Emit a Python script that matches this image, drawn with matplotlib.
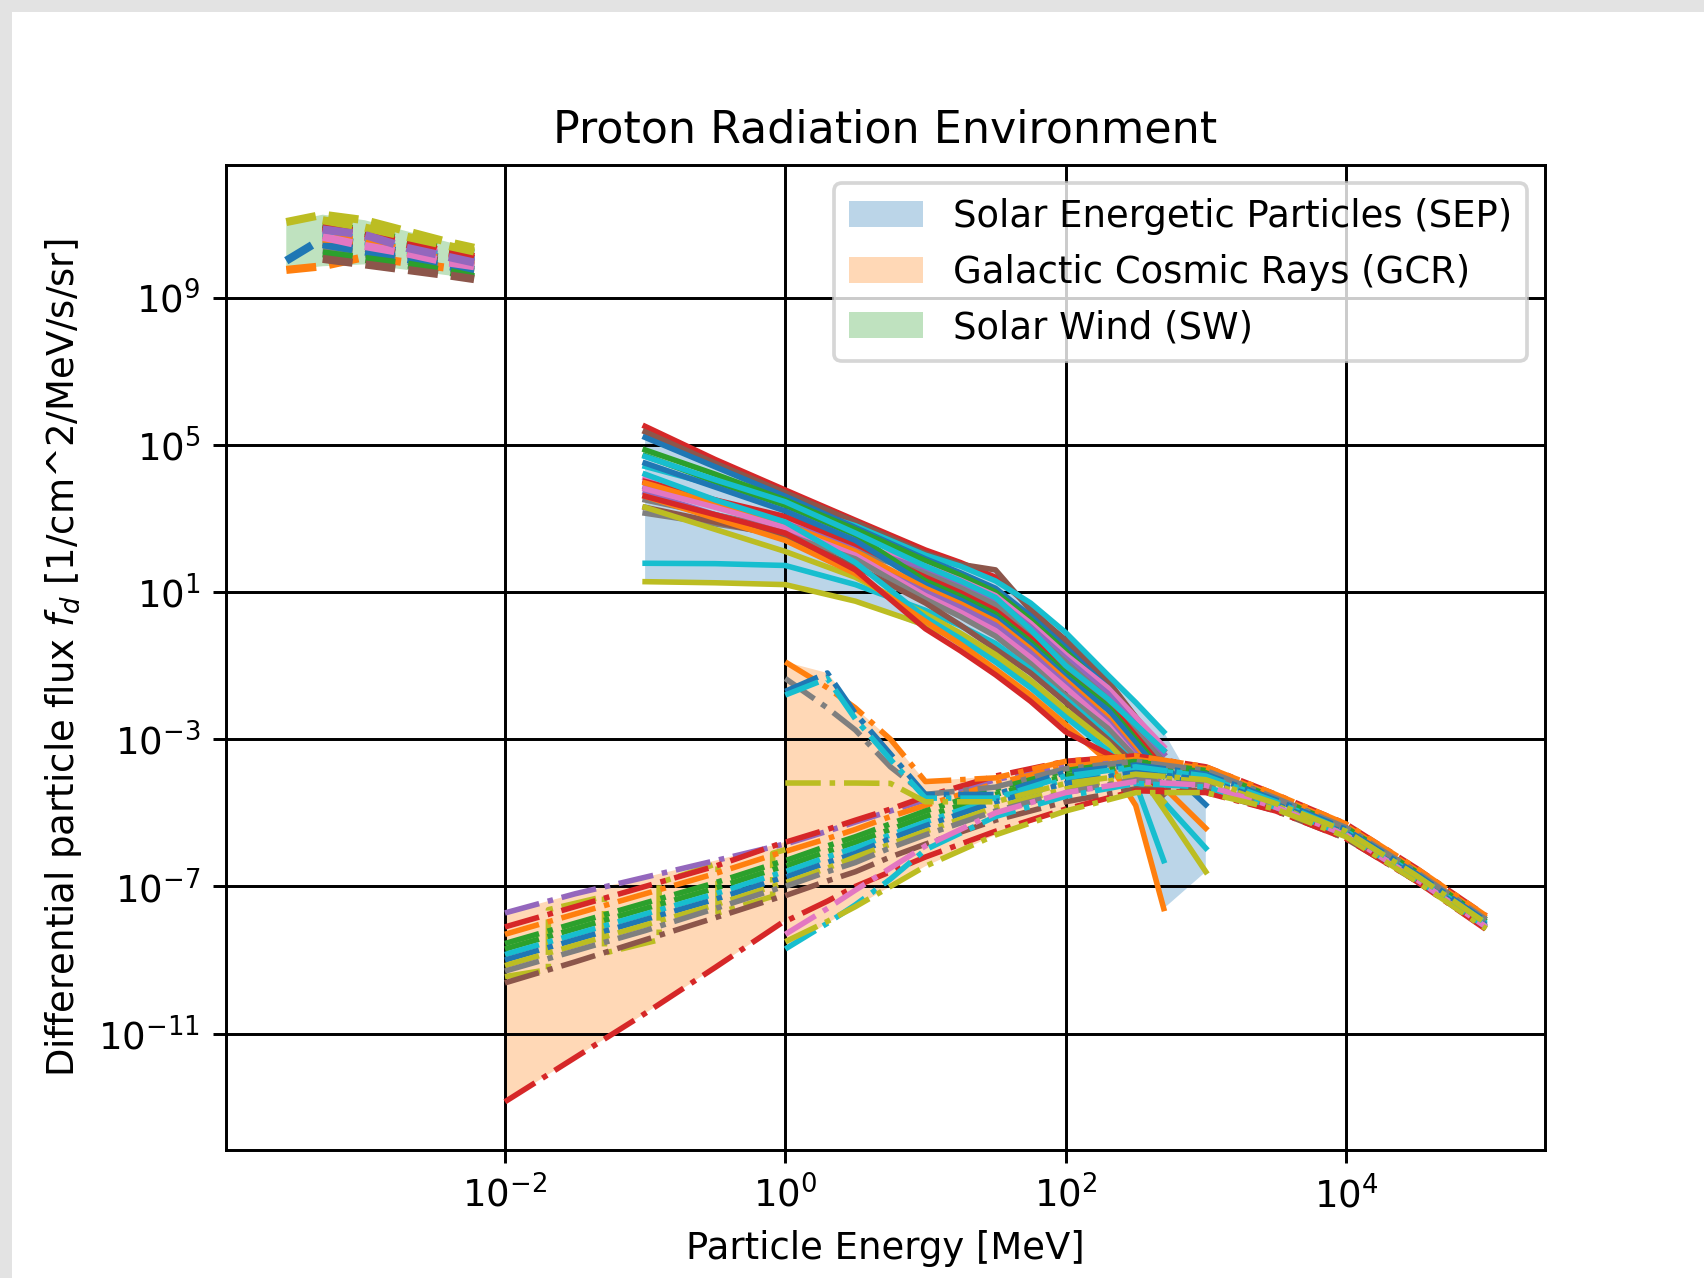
import numpy as np
import matplotlib
matplotlib.use("Agg")
import matplotlib.pyplot as plt
from matplotlib.patches import Rectangle
from matplotlib.ticker import FixedLocator, NullLocator

nan = np.nan

# ---------------- data (log10 values) ----------------
# Solar Energetic Particles: log10(E/MeV) grid and log10(flux) per model
sep_logE = [-1.0, -0.5, 0.0, 0.5, 1.0, 1.25, 1.5, 1.75, 2.0, 2.3, 2.5, 2.7, 3.0]
sep_logF = [
    [5.50, 4.60, 3.77, 2.95, 2.14, 1.80, 1.40, 0.60, -0.40, -1.45, -2.40, -3.30, nan],
    [5.35, 4.50, 3.70, 2.90, 2.05, 1.75, 1.60, 0.50, -0.30, -1.40, -2.40, -3.40, nan],
    [4.41, 3.90, 3.40, 2.80, 2.00, 1.70, 1.30, 0.70, -0.10, -1.25, -2.00, -2.80, nan],
    [5.20, 4.40, 3.60, 2.75, 1.90, 1.52, 1.10, 0.35, -0.50, -1.60, -2.60, -3.70, -4.78],
    [4.86, 4.20, 3.50, 2.70, 1.85, 1.45, 1.00, 0.25, -0.60, -1.70, -2.70, -3.60, nan],
    [4.10, 3.50, 2.95, 2.30, 1.70, 1.32, 0.90, 0.15, -0.70, -1.60, -2.40, -3.20, nan],
    [3.85, 3.35, 2.85, 2.25, 1.60, 1.22, 0.80, 0.05, -0.80, -1.75, -2.60, -3.40, nan],
    [3.50, 3.10, 2.70, 2.10, 1.50, 1.10, 0.65, -0.08, -0.90, -1.90, -2.80, -3.60, nan],
    [4.00, 3.50, 3.05, 2.30, 1.40, 0.98, 0.50, -0.25, -1.10, -2.00, -2.90, -3.80, nan],
    [4.70, 4.00, 3.35, 2.55, 1.30, 0.88, 0.40, -0.35, -1.20, -2.10, -3.00, -3.90, nan],
    [4.50, 3.85, 3.20, 2.40, 1.20, 0.78, 0.30, -0.45, -1.30, -2.20, -3.10, -4.00, nan],
    [3.96, 3.40, 2.85, 2.10, 1.10, 0.68, 0.20, -0.55, -1.40, -2.40, -3.30, -4.30, -5.42],
    [3.70, 3.10, 2.60, 1.90, 1.00, 0.58, 0.10, -0.65, -1.50, -2.50, -3.40, -4.30, nan],
    [3.80, 3.30, 2.75, 2.00, 0.90, 0.45, -0.05, -0.78, -1.60, -2.60, -3.50, -4.40, nan],
    [3.14, 2.85, 2.55, 1.90, 0.80, 0.33, -0.20, -0.95, -1.80, -2.70, -3.50, -4.40, nan],
    [1.78, 1.77, 1.72, 1.20, 0.50, 0.08, -0.40, -1.10, -1.90, -2.90, -3.70, -4.70, -5.96],
    [1.28, 1.25, 1.20, 0.75, 0.10, -0.32, -0.80, -1.50, -2.30, -3.10, -3.80, -4.90, -6.60],
    [3.30, 2.90, 2.50, 1.70, 0.70, 0.10, -0.55, -1.20, -2.00, -3.00, -3.70, -4.50, nan],
    [3.30, 2.70, 2.10, 1.40, 0.40, -0.12, -0.70, -1.40, -2.20, -3.10, -3.90, -4.70, nan],
    [4.20, 3.50, 2.90, 1.80, 0.30, -0.27, -0.90, -1.60, -2.40, -3.30, -4.20, -6.30, nan],
    [3.60, 3.00, 2.40, 1.50, 0.20, -0.42, -1.10, -1.80, -2.60, -3.60, -4.80, -7.60, nan],
    [3.60, 3.10, 2.60, 1.60, 0.00, -0.60, -1.25, -1.97, -2.80, -3.40, -3.80, -4.40, nan],
    [4.68, 4.05, 3.45, 2.60, 1.70, 1.30, 0.85, -0.02, -1.00, -1.90, -2.60, -3.30, nan],
]

# Galactic Cosmic Rays: common log10(E/MeV) grid, NaN where a model has no value
gcr_logE = [-2.0, -1.5, -1.0, -0.5, -0.01, 0.0, 0.3, 0.5, 0.75, 1.0, 1.5, 2.0, 2.5, 3.0, 3.5, 4.0, 4.5, 5.0]
gcr_logF = [
    [-7.72, -7.20, -6.75, -6.30, -5.85, -5.85, -5.50, -5.25, -4.95, -4.65, -4.10, -3.70, -3.50, -3.80, -4.55, -5.35, -6.55, -7.85],
    [-8.10, -7.55, -7.00, -6.45, -5.80, -5.80, -5.45, -5.20, -4.90, -4.56, -4.00, -3.60, -3.45, -3.75, -4.50, -5.30, -6.50, -7.80],
    [-8.30, -7.75, -7.20, -6.65, -6.05, -6.05, -5.70, -5.45, -5.10, -4.80, -4.20, -3.75, -3.55, -3.80, -4.55, -5.35, -6.55, -7.85],
    [-8.55, -8.00, -7.45, -6.90, -6.30, -6.30, -5.90, -5.65, -5.30, -4.95, -4.35, -3.85, -3.60, -3.85, -4.60, -5.40, -6.60, -7.90],
    [-8.70, -8.15, -7.60, -7.05, -6.45, -6.45, -6.05, -5.80, -5.45, -5.10, -4.50, -4.00, -3.70, -3.95, -4.65, -5.45, -6.65, -7.95],
    [-8.85, -8.30, -7.75, -7.20, -6.60, -6.60, -6.20, -5.95, -5.60, -5.25, -4.60, -4.10, -3.80, -4.00, -4.70, -5.50, -6.70, -8.00],
    [-9.00, -8.45, -7.90, -7.35, -6.75, -6.75, -6.35, -6.10, -5.70, -5.35, -4.70, -4.20, -3.90, -4.10, -4.75, -5.55, -6.75, -8.05],
    [-9.15, -8.60, -8.05, -7.50, -6.90, -6.90, -6.50, -6.20, -5.85, -5.50, -4.85, -4.35, -4.00, -4.15, -4.80, -5.60, -6.80, -8.10],
    [-9.30, -8.75, -8.20, -7.60, -7.00, -7.00, -6.60, -6.35, -5.95, -5.60, -4.95, -4.45, -4.10, -4.25, -4.85, -5.62, -6.82, -8.12],
    [-9.62, -9.05, -8.45, -7.85, -7.25, -7.25, -6.85, -6.60, -6.20, -5.85, -5.20, -4.70, -4.35, -4.40, -4.95, -5.70, -6.85, -8.15],
    [-12.85, -11.65, -10.45, -9.20, -7.95, -7.95, -7.40, -7.00, -6.60, -6.20, -5.50, -4.90, -4.40, -4.45, -4.95, -5.70, -6.85, -8.17],
    [nan, nan, nan, nan, nan, -8.70, -8.00, -7.50, -6.80, -6.00, -5.10, -4.55, -4.20, -4.30, -4.85, -5.60, -6.80, -8.10],
    [nan, nan, nan, nan, nan, -8.30, -7.60, -7.10, -6.50, -5.90, -5.00, -4.45, -4.15, -4.25, -4.85, -5.60, -6.80, -8.10],
    [nan, nan, nan, nan, nan, -8.50, -7.95, -7.55, -7.00, -6.45, -5.60, -4.95, -4.45, -4.45, -4.90, -5.65, -6.85, -8.15],
    [nan, nan, nan, nan, nan, -0.90, -1.60, -2.15, -3.00, -4.15, -4.05, -3.60, -3.45, -3.75, -4.50, -5.30, -6.50, -7.80],
    [nan, nan, nan, nan, nan, -1.35, -2.15, -2.75, -3.75, -4.50, -4.30, -3.80, -3.60, -3.85, -4.60, -5.40, -6.60, -7.90],
    [nan, nan, nan, nan, nan, -1.70, -1.20, -2.30, -3.40, -4.50, -4.50, -3.90, -3.70, -3.95, -4.65, -5.45, -6.65, -7.95],
    [nan, nan, nan, nan, nan, -1.80, -1.35, -2.45, -3.55, -4.60, -4.60, -4.00, -3.75, -4.00, -4.70, -5.50, -6.70, -8.00],
    [nan, nan, nan, nan, nan, -4.19, -4.19, -4.19, -4.20, -4.70, -4.70, -4.20, -3.95, -4.10, -4.75, -5.50, -6.70, -8.00],
]
# one GCR model drawn with vertical jumps inside the low-energy band
gcr_zig_logE = [-2.0, -1.69, -1.69, -1.29, -1.29, -0.90, -0.90, -0.48, -0.48, -0.09, -0.09, 0.0]
gcr_zig_logF = [-9.45, -9.26, -7.63, -7.27, -8.81, -8.45, -6.90, -6.37, -7.72, -7.27, -6.10, -6.00]

# Solar Wind
sw_logE = [-3.56, -3.30, -3.00, -2.70, -2.40, -2.22]
sw_logF = [
    [10.00, 10.60, 10.45, 10.20, 10.05, 9.95],
    [9.75, 9.85, 10.10, 9.95, 9.80, 9.75],
    [nan, 11.00, 10.80, 10.55, 10.30, 10.20],
    [nan, 10.90, 10.65, 10.50, 10.20, 10.05],
    [nan, 10.70, 10.50, 10.30, 10.15, 10.00],
    [nan, 10.50, 10.35, 10.15, 9.95, 9.85],
    [nan, 10.80, 10.60, 10.40, 10.15, 10.00],
    [nan, 10.30, 10.20, 10.00, 9.80, 9.70],
    [11.05, 11.25, 11.10, 10.80, 10.50, 10.35],
    [nan, 10.75, 10.55, 10.30, 10.10, 10.00],
    [nan, 10.45, 10.25, 10.05, 9.85, 9.75],
    [nan, 10.60, 10.55, 10.25, 10.00, 9.90],
    [nan, 10.20, 10.05, 9.90, 9.70, 9.55],
    [nan, 10.95, 10.75, 10.45, 10.25, 10.10],
    [nan, 11.10, 10.90, 10.65, 10.40, 10.25],
    [nan, 10.05, 9.90, 9.75, 9.60, 9.50],
    [nan, 10.65, 10.40, 10.20, 9.95, 9.85],
    [nan, 10.85, 10.70, 10.35, 10.10, 9.95],
]

xticks = [1e-2, 1e0, 1e2, 1e4]
yticks = [1e-11, 1e-7, 1e-3, 1e1, 1e5, 1e9]

# ---------------- styles ----------------
sep_colors = ["C3", "C5", "C9", "C0", "C2", "C6", "C4", "C7", "C3", "C2", "C0", "C1",
              "C4", "C6", "C7", "C9", "C8", "C5", "C8", "C9", "C1", "C3", "C9"]
gcr_colors = ["C4", "C3", "C1", "C2", "C2", "C9", "C0", "C8", "C7", "C5", "C3",
              "C9", "C6", "C8", "C1", "C7", "C0", "C9", "C8"]
sw_colors = ["C0", "C1", "C2", "C3", "C4", "C5", "C6", "C7", "C8", "C9",
             "C0", "C1", "C2", "C3", "C8", "C5", "C6", "C4"]

# ---------------- figure ----------------
W, H, DPI = 1704, 1278, 266
fig = plt.figure(figsize=(W / DPI, H / DPI), dpi=DPI, facecolor="white")
# screenshot border
fig.patches.append(Rectangle((0, 1 - 12 / H), 1, 12 / H, transform=fig.transFigure,
                             facecolor="#e3e3e3", edgecolor="none", zorder=0))
fig.patches.append(Rectangle((0, 0), 12 / W, 1, transform=fig.transFigure,
                             facecolor="#e3e3e3", edgecolor="none", zorder=0))

ax = fig.add_axes([226 / W, 1 - 1150 / H, (1545 - 226) / W, (1150 - 165) / H])
ax.set_xscale("log")
ax.set_yscale("log")


def draw_group(logE, logF, colors, ls, lw, fillcolor, label):
    E = 10 ** np.asarray(logE, dtype=float)
    F = 10 ** np.asarray(logF, dtype=float)
    for row, c in zip(F, colors):
        ax.plot(E, row, ls=ls, lw=lw, color=c)
    lo = np.nanmin(F, axis=0)
    hi = np.nanmax(F, axis=0)
    ax.fill_between(E, lo, hi, facecolor=fillcolor, alpha=0.3, lw=0, label=label, zorder=1)


draw_group(sep_logE, sep_logF, sep_colors, "-", 1.5, "C0", "Solar Energetic Particles (SEP)")
ax.plot(10 ** np.asarray(gcr_zig_logE), 10 ** np.asarray(gcr_zig_logF), ls="-.", lw=1.5, color="C8")
draw_group(gcr_logE, gcr_logF, gcr_colors, "-.", 1.5, "C1", "Galactic Cosmic Rays (GCR)")
draw_group(sw_logE, sw_logF, sw_colors, "--", 2.2, "C2", "Solar Wind (SW)")

ax.set_xlim(10 ** -3.99, 10 ** 5.42)
ax.set_ylim(10 ** -14.16, 10 ** 12.6)
ax.xaxis.set_major_locator(FixedLocator(xticks))
ax.yaxis.set_major_locator(FixedLocator(yticks))
ax.xaxis.set_minor_locator(NullLocator())
ax.yaxis.set_minor_locator(NullLocator())
ax.grid(True, color="black", lw=0.8)

ax.set_title("Proton Radiation Environment")
ax.set_xlabel("Particle Energy [MeV]")
ax.set_ylabel("Differential particle flux $f_d$ [1/cm^2/MeV/s/sr]")
ax.legend(loc="upper right")

fig.savefig("out.png", dpi=DPI, facecolor="white")
